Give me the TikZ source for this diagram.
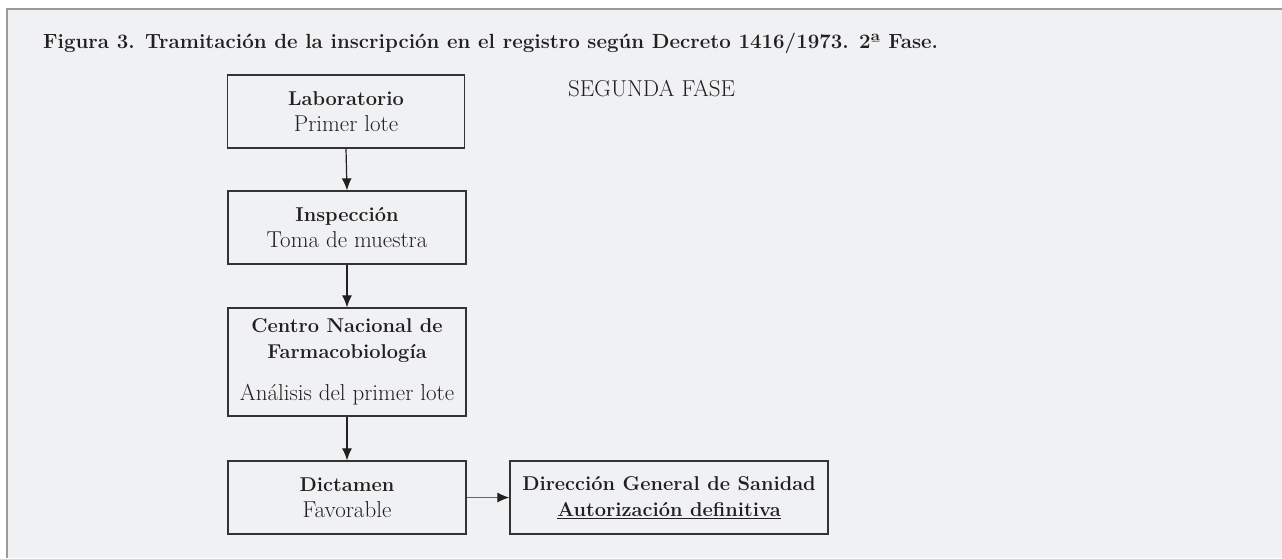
\documentclass[tikz,border=0pt]{standalone}
\usepackage{fontspec}
\usetikzlibrary{arrows.meta}
\definecolor{panel}{HTML}{F0F1F3}
\definecolor{framegray}{HTML}{9A9A9A}
\definecolor{ink}{HTML}{231F20}
\definecolor{boxline}{HTML}{333333}
\newcommand{\rg}[1]{{\fontsize{23}{26}\selectfont #1}}
\tikzset{
  flowbox/.style={draw=boxline, line width=1.3pt, inner sep=0pt, align=center,
    text=ink, font=\fontsize{20}{26}\selectfont, minimum height=73pt},
  flowarrow/.style={draw=ink, line width=1.2pt, -{Latex[length=12pt,width=10pt,color=ink]}}
}
\begin{document}
\begin{tikzpicture}[x=1pt,y=-1pt]
\useasboundingbox (0,0) rectangle (1282,558);
\fill[white] (0,0) rectangle (1282,558);
\fill[panel] (7,9) rectangle (1282,558);
\draw[framegray, line width=2pt] (7,558) -- (7,9) -- (1282,9);
\node[anchor=base west, text=ink, inner sep=0pt, font=\fontsize{20.5}{24}\selectfont\bfseries] (title) at (43,48)
  {Figura 3. Tramitación de la inscripción en el registro según Decreto 1416/1973. 2ª Fase.};
\node[anchor=west, text=ink, inner sep=0pt, font=\fontsize{23}{26}\selectfont] (fase) at (568,89) {SEGUNDA FASE};
\node[flowbox, minimum width=237pt] (lab) at (346,111.5) {\textbf{Laboratorio}\\\rg{Primer lote}};
\node[flowbox, minimum width=238pt] (insp) at (347,227.5) {\textbf{Inspección}\\\rg{Toma de muestra}};
\node[flowbox, minimum width=238pt, minimum height=108pt] (cnf) at (347,362)
  {\textbf{Centro Nacional de}\\\textbf{Farmacobiología}\\[16pt]\rg{Análisis del primer lote}};
\node[flowbox, minimum width=238pt] (dict) at (347,497.5) {\textbf{Dictamen}\\\rg{Favorable}};
\node[flowbox, minimum width=318pt] (dgs) at (669,497.5)
  {\textbf{Dirección General de Sanidad}\\\textbf{\underline{Autorización definitiva}}};
\draw[flowarrow] (lab.south) -- (insp.north);
\draw[flowarrow] (insp.south) -- (cnf.north);
\draw[flowarrow] (cnf.south) -- (dict.north);
\draw[flowarrow, draw=gray!80!black] (dict.east) -- (dgs.west);
\end{tikzpicture}
\end{document}
